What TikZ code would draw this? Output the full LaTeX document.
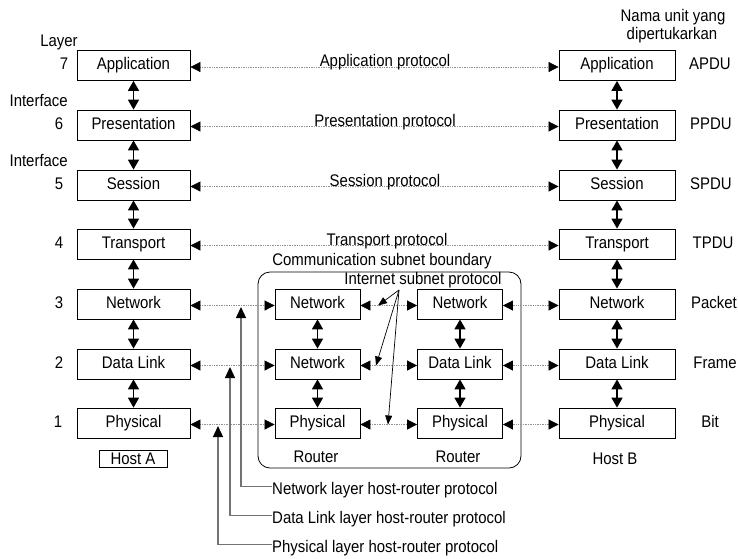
\documentclass[tikz,border=0pt]{standalone}
\usepackage{fontspec}
\setmainfont{Liberation Sans}[FakeStretch=0.89]
\usetikzlibrary{arrows.meta}
\begin{document}
\begin{tikzpicture}[x=1pt,y=-1pt,
  font=\fontsize{16.8}{19}\selectfont,
  every node/.style={text height=12.2pt, text depth=3.5pt, inner sep=0pt},
  box/.style={draw, line width=0.8pt, minimum height=30pt, align=center},
  lbox/.style={box, minimum width=113pt},
  rbox/.style={box, minimum width=116pt},
  mbox/.style={box, minimum width=85pt},
  proto/.style={draw=gray!85, densely dotted, line width=0.7pt,
    arrows={Triangle[length=10pt,width=10pt,color=black,fill=black]-Triangle[length=10pt,width=10pt,color=black,fill=black]}},
  updown/.style={line width=1.6pt,
    arrows={Triangle[length=10pt,width=11pt]-Triangle[length=10pt,width=11pt]}},
  hr/.style={draw=gray!90!black, line width=1.3pt,
    arrows={-Triangle[length=11pt,width=10pt,color=black,fill=black]}},
  isp/.style={line width=0.7pt, arrows={-Triangle[length=9pt,width=7pt]}}
]
\useasboundingbox (0,0) rectangle (738,558);

% left host
\node[lbox] (L7) at (133.5,65.5) {Application};
\node[lbox] (L6) at (133.5,125) {Presentation};
\node[lbox] (L5) at (133.5,185) {Session};
\node[lbox] (L4) at (133.5,244) {Transport};
\node[lbox] (L3) at (133.5,304) {Network};
\node[lbox] (L2) at (133.5,364) {Data Link};
\node[lbox] (L1) at (133.5,423) {Physical};
\node[draw, line width=0.8pt, minimum width=68pt, minimum height=17pt, text height=11.5pt, text depth=0pt] (hostA) at (133,458.5) {Host A};

% right host
\node[rbox] (R7) at (617,65.5) {Application};
\node[rbox] (R6) at (617,125) {Presentation};
\node[rbox] (R5) at (617,185) {Session};
\node[rbox] (R4) at (617,244) {Transport};
\node[rbox] (R3) at (617,304) {Network};
\node[rbox] (R2) at (617,364) {Data Link};
\node[rbox] (R1) at (617,423) {Physical};
\node (hostB) at (615,460.5) {Host B};

% routers
\node[mbox] (N1) at (317.5,304) {Network};
\node[mbox] (D1) at (317.5,364) {Network};
\node[mbox] (P1) at (317.5,423) {Physical};
\node[mbox] (N2) at (460,304) {Network};
\node[mbox] (D2) at (460,364) {Data Link};
\node[mbox] (P2) at (460,423) {Physical};
\node (rt1) at (316,458.5) {Router};
\node (rt2) at (458,458.5) {Router};
\node[draw, line width=0.8pt, rounded corners=12pt, minimum width=263pt, minimum height=196pt] (subnet) at (389.5,370) {};
\node (csb) at (382,261.5) {Communication subnet boundary};
\node (isplbl) at (423,280.5) {Internet subnet protocol};

% layer labels
\node (lay) at (59,42.6) {Layer};
\node (if1) at (38.7,102.6) {Interface};
\node (if2) at (38.7,162.6) {Interface};
\node (n7) at (64,65.5) {7};
\node (n6) at (59,125) {6};
\node (n5) at (59,185) {5};
\node (n4) at (59,244) {4};
\node (n3) at (59,304) {3};
\node (n2) at (59,364) {2};
\node (n1) at (58,423) {1};

% unit names
\node (nu1) at (673,17.3) {Nama unit yang};
\node (nu2) at (672,35.6) {dipertukarkan};
\node (u7) at (710,65.5) {APDU};
\node (u6) at (711,125) {PPDU};
\node (u5) at (711,185) {SPDU};
\node (u4) at (713,244) {TPDU};
\node (u3) at (714,304) {Packet};
\node (u2) at (715,364) {Frame};
\node (u1) at (710,423) {Bit};

% vertical interfaces
\foreach \a/\b in {L7/L6,L6/L5,L5/L4,L4/L3,L3/L2,L2/L1,R7/R6,R6/R5,R5/R4,R4/R3,R3/R2,R2/R1,N1/D1,D1/P1,N2/D2,D2/P2}
  \draw[updown] (\a.south) -- (\b.north);

% peer protocols
\draw[proto] ([yshift=-1.5pt]L7.east) -- ([yshift=-1.5pt]R7.west);
\draw[proto] ([yshift=-1.5pt]L6.east) -- ([yshift=-1.5pt]R6.west);
\draw[proto] ([yshift=-1.5pt]L5.east) -- ([yshift=-1.5pt]R5.west);
\draw[proto] ([yshift=-1.5pt]L4.east) -- ([yshift=-1.5pt]R4.west);
\node (ap) at (385,62.3) {Application protocol};
\node (pp) at (385,121.8) {Presentation protocol};
\node (sp) at (385,181.8) {Session protocol};
\node (tp) at (387,240.8) {Transport protocol};

\foreach \a/\b in {L3/N1,N1/N2,N2/R3,L2/D1,D1/D2,D2/R2,L1/P1,P1/P2,P2/R1}
  \draw[proto] ([yshift=-1.5pt]\a.east) -- ([yshift=-1.5pt]\b.west);

% internet subnet protocol arrows
\coordinate (io) at (399,290);
\coordinate (ie3) at (378,305.5);
\coordinate (ie2) at (376,365.5);
\coordinate (ie1) at (388,424.5);
\draw[isp] (io) -- (ie3);
\draw[isp] (io) -- (ie2);
\draw[isp] (io) -- (ie1);

% host-router protocols
\node[anchor=base west] (hn) at (272,494) {Network layer host-router protocol};
\node[anchor=base west] (hd) at (272,523) {Data Link layer host-router protocol};
\node[anchor=base west] (hp) at (272,552) {Physical layer host-router protocol};
\coordinate (tn) at (241,307);
\coordinate (td) at (230,367);
\coordinate (tph) at (218,426);
\draw[hr] ([yshift=3pt]hn.west) -| (tn);
\draw[hr] ([yshift=3pt]hd.west) -| (td);
\draw[hr] ([yshift=3pt]hp.west) -| (tph);
\end{tikzpicture}
\end{document}
